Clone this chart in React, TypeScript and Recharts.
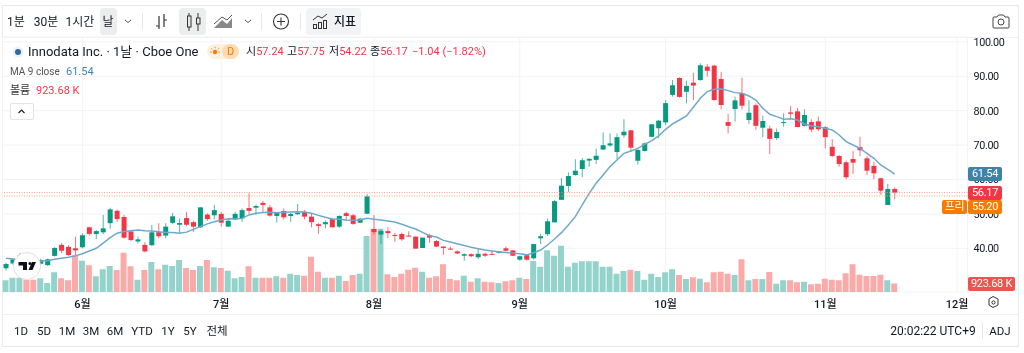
import React from "react";
import { ComposedChart, Bar, Line, XAxis, YAxis, CartesianGrid, ReferenceLine, Cell } from "recharts";

// daily candles, 129 sessions
const opens = [
  34.2, 35.6, 35.9, 37.6, 36.9, 35.5, 35.1, 37.8, 41, 40.4,
  40, 40.3, 46.1, 44.15, 44.65, 47.3, 50.9, 49.1, 44.9, 42,
  41, 40.9, 44.7, 43.7, 47.4, 46.85, 48.8, 47.6, 46.1, 49.8,
  49.6, 50, 46.3, 48.4, 48.7, 51.7, 51.8, 53.2, 51.9, 49.4,
  50.85, 49.4, 49.9, 50.6, 49.2, 47, 47, 48.6, 46.3, 50.2,
  49.6, 47.45, 50.05, 45.6, 44, 45, 43.9, 44.15, 43.7, 43.4,
  40.1, 43.8, 42.1, 40.5, 39.9, 39.1, 37.85, 38.3, 37.4, 38.4,
  38.4, 38.7, 40, 39.4, 36.7, 38, 37.1, 42.9, 44.1, 47.55,
  54.1, 58.1, 61.3, 63.05, 65.5, 65.7, 68.7, 69.9, 68, 72.85,
  74.3, 65.45, 68.3, 72.4, 74.9, 76.6, 84.6, 89.5, 85.5, 88.15,
  88.9, 92.8, 93.1, 89.2, 76.7, 80.5, 85.05, 77.3, 81.6, 75.05,
  74.8, 72.05, 76.4, 79.5, 79.8, 75.6, 76.7, 76.9, 75.2, 69.5,
  66.85, 65, 65.95, 69.4, 66.15, 63.95, 60.35, 52.6, 57.24,
];
const closes = [
  35.44, 36.75, 37.9, 36.9, 36.2, 36.6, 36.8, 40.1, 39.3, 38.05,
  39.4, 43.8, 44.2, 45, 45.8, 51.3, 48.5, 43.1, 42.4, 42.6,
  39.1, 44.65, 43.5, 46.3, 49.3, 47.35, 46.85, 46.3, 51.9, 48.5,
  51.1, 47.45, 48, 50, 51.1, 50.9, 52.3, 52.6, 49.5, 50.5,
  49, 50, 50.3, 49.2, 47.6, 46.5, 47.6, 46.1, 49.4, 49.4,
  47.1, 48.6, 55.1, 44.7, 45, 44.4, 43.6, 42.6, 43.5, 39.9,
  43.1, 43.1, 40.5, 40.1, 39.7, 38.5, 38.3, 37.7, 38.4, 37.85,
  38.3, 39.1, 39.3, 37.85, 37.7, 36.7, 41.25, 43.5, 47.85, 53.7,
  58.2, 61, 62.55, 65.6, 66, 66.9, 69.95, 70.5, 72.3, 73.9,
  69.25, 68.6, 70.5, 76.05, 77.1, 82.2, 87.4, 84, 87.2, 87.3,
  93.2, 91.6, 83.1, 81.65, 75.6, 83, 81.45, 79.4, 75.6, 77,
  71.8, 73.8, 76.7, 79.1, 75.25, 78.75, 74.5, 74.6, 72.3, 66.85,
  64.5, 60.65, 64.9, 68.5, 62.55, 61.8, 56.75, 57.25, 56.17,
];
const highs = [
  35.8, 37, 38.6, 38, 37.3, 37, 37, 40.3, 41.5, 40.9,
  43.4, 44.4, 46.3, 45.3, 49.7, 51.8, 51.3, 49.7, 45.1, 43.4,
  41.8, 46.8, 47.3, 47.3, 50.3, 48.7, 50.6, 48, 52, 50.2,
  52.6, 50.5, 48.4, 50.6, 51.6, 56, 52.7, 53.8, 52.6, 50.5,
  51.6, 50.3, 52.9, 51.1, 50.2, 47.3, 48.1, 48.6, 49.6, 50.6,
  50, 48.8, 55.8, 49.7, 45.5, 46.1, 44.5, 44.6, 44.9, 43.4,
  43.1, 44.25, 42.4, 40.5, 40.5, 39.4, 38.5, 38.5, 39.9, 38.7,
  39.6, 39.2, 40.5, 39.5, 37.85, 38.1, 41.3, 44.15, 48.7, 54,
  60.4, 62.1, 65.9, 66.25, 66.2, 69, 73.7, 73.4, 73.4, 77.5,
  74.4, 68.8, 70.8, 76.1, 77.3, 83.1, 88.9, 89.7, 88.7, 91,
  93.8, 93.5, 93.3, 91.3, 79, 84.1, 89.6, 83.1, 82.15, 78.55,
  75.65, 74.8, 79.25, 81.4, 80.8, 80.4, 77.5, 78.25, 75.55, 71.7,
  67.1, 65.5, 68.3, 72.45, 66.8, 65.2, 60.5, 58.7, 57.75,
];
const lows = [
  33.5, 35.2, 35.5, 36.5, 35.8, 35.2, 34.9, 37.6, 38.6, 37.8,
  37.8, 40, 43.7, 42.7, 44.15, 45.7, 47.7, 42.8, 42.1, 41.4,
  38.9, 40.6, 42.9, 42.9, 47, 44.15, 46.5, 44.8, 45.9, 48,
  48.4, 46.3, 46.3, 48.4, 47.7, 50, 49.7, 50.3, 49.2, 47.45,
  48.4, 47.7, 49.7, 48.4, 46.1, 44.2, 45.8, 46.1, 45.9, 48,
  46.8, 47.3, 50, 44, 41.3, 42.9, 41.9, 42.2, 43.4, 39.9,
  40.1, 41.6, 40.3, 38.1, 39.5, 38.3, 36.4, 37.4, 36.9, 37.5,
  38.05, 38.4, 39.1, 37.7, 36.4, 36.5, 36.7, 41.25, 43.6, 47.45,
  54.05, 56.4, 61.1, 60.7, 63.7, 64.5, 68.6, 69.5, 65.9, 72.15,
  68.1, 64.3, 68.1, 72.3, 72, 75.75, 84.1, 83.8, 82.15, 83.1,
  88.7, 89.9, 82.9, 80.4, 73.4, 76.8, 80.4, 76.15, 74.4, 72.3,
  67.4, 71.5, 75.35, 77.5, 75.2, 75.35, 73.8, 74.1, 69.05, 66.45,
  63.7, 60.05, 61.6, 66.8, 61.3, 60.05, 55.5, 52.6, 54.22,
];
const maValues = [
  37.1, 36.9, 36.7, 36.5, 36.4, 36.3, 36.4, 36.8, 37.1, 37.4,
  37.8, 38.4, 39.2, 40, 41.5, 43.1, 44.4, 44.9, 45.1, 45.3,
  45.1, 45, 44.8, 44.6, 44.6, 44.4, 44.7, 45.5, 46.3, 47.1,
  47.7, 48.2, 48.6, 48.5, 48.7, 49.7, 50.2, 50.4, 50.5, 50.36,
  50.45, 50.55, 50.65, 50.55, 50.16, 49.58, 49, 48.52, 48.42, 48.23,
  48.13, 48.23, 48.71, 48.42, 48.23, 47.93, 47.64, 46.97, 46.29, 45.61,
  44.64, 43.67, 43.3, 42.3, 41.83, 41.35, 40.8, 40.28, 39.9, 39.5,
  39.2, 39, 38.8, 38.6, 38.4, 38.1, 38.7, 39.5, 40.96, 42.7,
  44.55, 46.78, 49.2, 52.6, 55.98, 58.9, 61.3, 63.74, 65.67, 67.6,
  68.29, 69.06, 70.23, 71.29, 72.65, 74.59, 76.14, 77.3, 78.46, 80.98,
  83.6, 85.54, 86.2, 86.4, 85.83, 85.25, 85.05, 84.28, 83.1, 80.7,
  78.95, 78.27, 77.5, 77.69, 77.3, 76.14, 75.56, 75.36, 74.88, 74.39,
  72.94, 71, 70.03, 69.06, 67.61, 66.16, 64.22, 62.96, 61.54,
];
// volume in thousands
const volumes = [
  1283, 1577, 1577, 1357, 1357, 1503, 990, 2163, 1503, 1283,
  4033, 3447, 2933, 1723, 2493, 2860, 2420, 4327, 2823, 1357,
  2420, 3300, 2493, 3007, 2860, 3520, 2640, 2420, 2860, 3520,
  2713, 2640, 2347, 1503, 1650, 2823, 1577, 1577, 1577, 1723,
  1577, 2017, 1870, 1797, 3887, 2237, 1577, 1577, 1797, 1210,
  1870, 2017, 6160, 6967, 6967, 1943, 1650, 2017, 2457, 2677,
  2237, 1577, 1723, 3043, 1430, 1283, 1797, 1137, 1503, 1137,
  1063, 990, 1173, 1283, 1577, 1430, 3410, 2787, 4583, 3997,
  5097, 2787, 3227, 3373, 3373, 3373, 2787, 2787, 2017, 2310,
  2457, 2310, 1357, 2017, 1650, 2163, 2493, 1870, 1430, 1613,
  1467, 1063, 2163, 2237, 2017, 1870, 3593, 1283, 1430, 1430,
  2200, 917, 1283, 1283, 1063, 1137, 843, 917, 1467, 1357,
  1283, 2053, 3043, 1907, 1760, 1760, 1907, 1283, 923.68,
];

const monthTicks = [11, 31, 53, 74, 95, 118, 137];
const monthLabels = ["6월", "7월", "8월", "9월", "10월", "11월", "12월"];
const priceTicks = [40, 50, 60, 70, 80, 90, 100];
const rangeButtons = ["1D", "5D", "1M", "3M", "6M", "YTD", "1Y", "5Y", "전체"];
const intervals = ["1분", "30분", "1시간", "날"];

const LAST_CLOSE = 56.17;
const PRE_PRICE = 55.2;
const SLOTS = 139; // empty sessions on the right run up to the price scale

const UP = "#089981";
const DOWN = "#f23645";
const UP_VOL = "#93d3cc";
const DOWN_VOL = "#f9aaa9";
const TEXT = "#131722";
const FONT = "Roboto, 'Noto Sans CJK KR', sans-serif";

const chartData = Array.from({ length: SLOTS }, (_, i) => ({
  idx: i,
  open: opens[i] ?? null,
  high: highs[i] ?? null,
  low: lows[i] ?? null,
  close: closes[i] ?? null,
  ma: maValues[i] ?? null,
  volume: volumes[i] ?? null,
}));

const Candle = (props: any) => {
  const { x, y, width, height, payload } = props;
  if (payload.open == null || !height) return null;
  const perPrice = height / (payload.high - payload.low);
  const top = y + (payload.high - Math.max(payload.open, payload.close)) * perPrice;
  const bodyH = Math.max(Math.abs(payload.open - payload.close) * perPrice, 1);
  const color = payload.close >= payload.open ? UP : DOWN;
  const cx = x + width / 2;
  return (
    <g>
      <line x1={cx} x2={cx} y1={y} y2={y + height} stroke={color} strokeOpacity={0.7} />
      <rect x={x} y={top} width={width} height={bodyH} fill={color} />
    </g>
  );
};

const Txt = ({ x, y, color = TEXT, size = 11.5, weight = 400, align = "left", children }: any) => (
  <div
    style={{
      position: "absolute",
      top: y,
      left: align === "center" ? x - 60 : x,
      width: align === "center" ? 120 : undefined,
      textAlign: align,
      color,
      fontSize: size,
      fontWeight: weight,
      lineHeight: "16px",
      whiteSpace: "nowrap",
    }}
  >
    {children}
  </div>
);

const Tag = ({ x, y, w, bg, children }: any) => (
  <div
    style={{
      position: "absolute",
      left: x,
      top: y,
      width: w,
      height: 14,
      background: bg,
      color: "#fff",
      borderRadius: 2,
      fontSize: 11,
      letterSpacing: -0.3,
      lineHeight: "14px",
      textAlign: "center",
    }}
  >
    {children}
  </div>
);

const Box = ({ x, y, w, h, bg, radius = 4, border }: any) => (
  <div style={{ position: "absolute", left: x, top: y, width: w, height: h, background: bg, borderRadius: radius, border }} />
);

const Icons = () => (
  <svg width={1024} height={353} style={{ position: "absolute", left: 0, top: 0 }}>
    {/* chevrons */}
    <path d="M125 20l3 2.5 3-2.5M245 20l3 2.5 3-2.5" fill="none" stroke="#555" strokeWidth={1} />
    {/* separators */}
    <path d="M142.5 13v17M261.5 13v17M300.5 13v17M982.5 323v16" stroke="#e6e7eb" />
    {/* bars icon */}
    <path d="M159 16v13M156 26h3M164 14v13M164 20h3" fill="none" stroke="#333" strokeWidth={1.2} />
    {/* candle icon */}
    <path d="M189 13v18M198 13v18" stroke="#333" />
    <rect x={187.5} y={16} width={3.5} height={11} fill="#e9eaed" stroke="#333" />
    <rect x={196.5} y={18} width={3.5} height={6} fill="#e9eaed" stroke="#333" />
    {/* area icon */}
    <path d="M214 28l8-8 5 4 5-6v10z" fill="#888" />
    <path d="M214 24l8-7 5 3 5-5" fill="none" stroke="#555" />
    {/* plus */}
    <circle cx={281} cy={21.5} r={7.5} fill="none" stroke="#333" strokeWidth={1.1} />
    <path d="M281 17.5v8M277 21.5h8" stroke="#333" strokeWidth={1.1} />
    {/* indicators icon */}
    <path d="M313 20l5-4 4 2 5-4" fill="none" stroke="#333" />
    <rect x={313.5} y={24.5} width={3} height={4} fill="none" stroke="#333" />
    <rect x={318.5} y={22.5} width={3} height={6} fill="none" stroke="#333" />
    <rect x={323.5} y={20.5} width={3} height={8} fill="none" stroke="#333" />
    {/* camera */}
    <path d="M994 17h3l1.5-2h5l1.5 2h3a1 1 0 0 1 1 1v9a1 1 0 0 1-1 1h-14a1 1 0 0 1-1-1v-9a1 1 0 0 1 1-1z" fill="none" stroke="#444" />
    <circle cx={1001} cy={22} r={3} fill="none" stroke="#444" />
    {/* symbol logo */}
    <circle cx={18} cy={52} r={5.5} fill="#eef1f6" />
    <circle cx={18} cy={52} r={3} fill="#2c6a9e" />
    {/* session sun */}
    <circle cx={215} cy={52} r={2.2} fill="#f57c00" />
    <path d="M210 52h1.5M218.5 52h1.5M215 46.8v1.4M211.3 48.3l1 1M218.7 48.3l-1 1" stroke="#f57c00" />
    {/* legend collapse chevron */}
    <path d="M18.5 113l3-3 3 3" fill="none" stroke="#222" strokeWidth={1.2} />
    {/* settings */}
    <path d="M989 299l4-2.5 5 2.5v6l-5 2.5-4-2.5z" fill="none" stroke="#333" />
    <circle cx={993.5} cy={302.5} r={1.6} fill="none" stroke="#333" />
    {/* tradingview badge */}
    <circle cx={27} cy={266} r={13.5} fill="#fff" stroke="#dfe1e6" />
    <path d="M18.5 262h8.5v8h-4v-4.5h-4.5z M32 262h4l-3.5 8h-4z" fill="#0b0e16" />
    <circle cx={30} cy={263.5} r={1.5} fill="#0b0e16" />
  </svg>
);

const App: React.FC = () => {
  return (
    <div
      style={{
        position: "absolute",
        left: 0,
        top: 0,
        width: 1024,
        height: 353,
        background: "#fff",
        fontFamily: FONT,
        overflow: "hidden",
        filter: "blur(0.3px)",
      }}
    >
      <div style={{ position: "absolute", left: 2, top: 5, width: 1015, height: 340, border: "1px solid #e8e9ec" }} />
      <div style={{ position: "absolute", left: 3, right: 6, top: 37, height: 1, background: "#eef0f3" }} />
      <div style={{ position: "absolute", left: 3, right: 6, top: 314, height: 1, background: "#eef0f3" }} />

      <ComposedChart
        width={1024}
        height={353}
        data={chartData}
        margin={{ top: 37, right: 0, bottom: 36, left: 2.53 }}
        style={{ position: "absolute", left: 0, top: 0 }}
      >
        <CartesianGrid xAxisId="price" yAxisId="price" stroke="#f2f3f6" />
        <XAxis
          xAxisId="price"
          dataKey="idx"
          type="category"
          ticks={monthTicks}
          interval={0}
          height={25}
          axisLine={false}
          tickLine={false}
          tickFormatter={(v: number) => monthLabels[monthTicks.indexOf(v)]}
          tick={{ fill: TEXT, fontSize: 11, fontWeight: 500, fontFamily: FONT }}
        />
        <XAxis xAxisId="vol" dataKey="idx" type="category" hide />
        <YAxis
          yAxisId="price"
          orientation="right"
          width={56.4}
          domain={[27.3, 101.42]}
          allowDataOverflow
          ticks={priceTicks}
          interval={0}
          axisLine={false}
          tickLine={false}
          tickMargin={0}
          tickFormatter={(v: number) => v.toFixed(2)}
          tick={{ fill: TEXT, fontSize: 10.8, letterSpacing: -0.4, fontFamily: FONT }}
        />
        <YAxis yAxisId="vol" hide domain={[0, 28050]} allowDataOverflow />
        <Bar xAxisId="vol" yAxisId="vol" dataKey="volume" barSize={6} isAnimationActive={false}>
          {chartData.map((d) => (
            <Cell key={d.idx} fill={d.close != null && d.close >= (d.open as number) ? UP_VOL : DOWN_VOL} />
          ))}
        </Bar>
        <Bar
          xAxisId="price"
          yAxisId="price"
          dataKey={(d: any) => (d.low == null ? null : [d.low, d.high])}
          barSize={5}
          shape={Candle}
          isAnimationActive={false}
        />
        <Line
          xAxisId="price"
          yAxisId="price"
          dataKey="ma"
          stroke="#6fa8cc"
          strokeWidth={1.5}
          dot={false}
          activeDot={false}
          connectNulls={false}
          isAnimationActive={false}
        />
        <ReferenceLine xAxisId="price" yAxisId="price" y={LAST_CLOSE} stroke="#f58f96" strokeDasharray="1 1.5" />
        <ReferenceLine xAxisId="price" yAxisId="price" y={PRE_PRICE} stroke="#f9ac55" strokeDasharray="1 1.5" />
      </ComposedChart>

      {/* toolbar */}
      <Box x={100} y={8} w={17} h={27} bg="#eceded" />
      <Box x={179} y={8} w={27} h={27} bg="#eceded" />
      <Box x={306} y={8} w={55} h={27} bg="#f2f3f4" />
      {intervals.map((t, i) => (
        <Txt key={t} x={[16, 46, 80, 108][i]} y={14} align="center" size={12}>
          {t}
        </Txt>
      ))}
      <Txt x={345} y={14} align="center" size={12} weight={500}>지표</Txt>

      {/* legend */}
      <Txt x={28} y={44} size={13}>Innodata Inc. · 1날 · Cboe One</Txt>
      <Box x={207} y={44} w={32} h={15} bg="#fdf0df" radius={8} />
      <Box x={222} y={44} w={17} h={15} bg="#fcdcb2" radius={8} />
      <Txt x={230.5} y={44} align="center" size={11} color="#f57c00">D</Txt>
      <Txt x={246} y={44} size={11}>시<span style={{ color: DOWN }}>57.24</span></Txt>
      <Txt x={287} y={44} size={11}>고<span style={{ color: DOWN }}>57.75</span></Txt>
      <Txt x={329} y={44} size={11}>저<span style={{ color: DOWN }}>54.22</span></Txt>
      <Txt x={370} y={44} size={11}>종<span style={{ color: DOWN }}>56.17</span></Txt>
      <Txt x={412} y={44} size={11} color={DOWN}>−1.04 (−1.82%)</Txt>
      <Txt x={10} y={64} size={10} color="#555">MA 9 close</Txt>
      <Txt x={66} y={64} size={11} color="#3d87b3">61.54</Txt>
      <Txt x={10} y={83} size={11} color="#333">볼륨</Txt>
      <Txt x={36} y={83} size={11} color={DOWN}>923.68 K</Txt>
      <Box x={10} y={103} w={22} h={15} bg="#fff" radius={2} border="1px solid #e0e3eb" />

      {/* price tags */}
      <Tag x={968} y={167} w={34} bg="#3d82ab">61.54</Tag>
      <Tag x={968} y={186} w={34} bg={DOWN}>56.17</Tag>
      <Tag x={968} y={200} w={34} bg="#f57c00">55.20</Tag>
      <Tag x={942} y={200} w={25} bg="#f57c00">프리</Tag>
      <Tag x={968} y={277} w={47} bg="#ef5350">923.68 K</Tag>

      {/* range row */}
      {rangeButtons.map((t, i) => (
        <Txt key={t} x={[21, 44, 67, 91, 115, 142, 168, 190, 217][i]} y={323} align="center" size={11.5}>
          {t}
        </Txt>
      ))}
      <Txt x={933} y={323} align="center" size={12}>20:02:22 UTC+9</Txt>
      <Txt x={1000} y={323} align="center" size={11.5}>ADJ</Txt>

      <Icons />
    </div>
  );
};

export default App;
